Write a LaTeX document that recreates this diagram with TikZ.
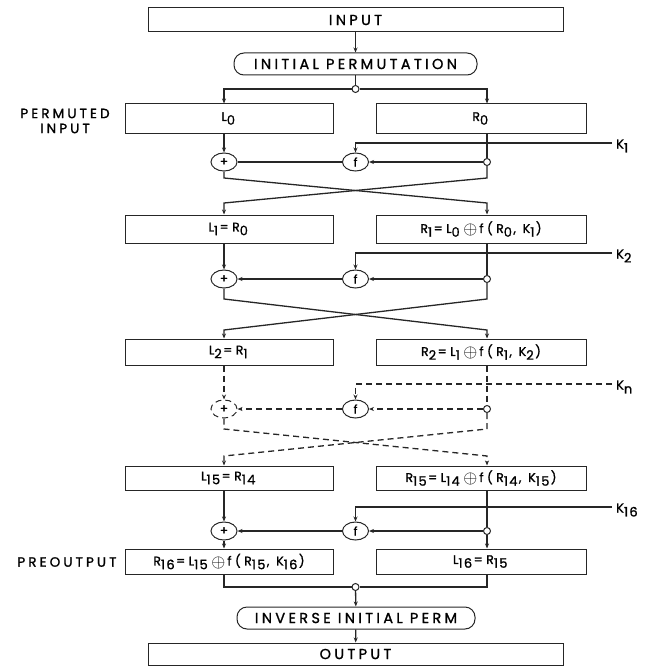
\documentclass[tikz,border=0pt]{standalone}
\usepackage{fontspec}
\usepackage{graphicx}
\setmainfont{Poppins}[LetterSpace=10,FakeBold=1]
\newfontfamily\titlefont{Poppins}[LetterSpace=23,FakeBold=1.2]
\newfontfamily\boxfont{Poppins}[LetterSpace=28,FakeBold=1.2]
\newfontfamily\subfont{Poppins}[LetterSpace=10,FakeBold=1.2]
\usetikzlibrary{arrows.meta,shapes.geometric}
\newcommand{\cp}{\,\raisebox{-0.25ex}{\scalebox{1.5}{$\oplus$}}\,}
\newcommand{\sbs}[1]{\raisebox{-0.55ex}{\subfont\fontsize{13}{13}\selectfont #1}\kern1.5pt}
\tikzset{
  ln/.style={line width=1.3pt, draw=black!85},
  arr/.style={ln, -{Stealth[length=5pt,width=4pt]}},
  box/.style={draw=black!85, line width=1pt, inner sep=0pt, font=\boxfont\fontsize{12.5}{14}\selectfont},
  tbox/.style={draw=black!85, line width=1pt, inner sep=0pt, font=\titlefont\fontsize{14.5}{16}\selectfont},
  perm/.style={draw=black!85, line width=1pt, rounded corners=10pt, inner sep=0pt, font=\titlefont\fontsize{14.5}{16}\selectfont},
  op/.style={ellipse, draw=black!85, line width=1pt, minimum width=26pt, minimum height=18pt, inner sep=0pt, fill=white, font=\fontsize{12}{12}\selectfont},
  jn/.style={circle, draw=black!85, line width=1pt, fill=white, minimum size=7pt, inner sep=0pt},
  dsh/.style={dash pattern=on 6pt off 4pt},
  lbl/.style={font=\titlefont\fontsize{13.5}{15}\selectfont, align=center},
  klbl/.style={anchor=west, inner sep=0pt, font=\boxfont\fontsize{13}{14}\selectfont}
}
\begin{document}
\begin{tikzpicture}[x=1pt,y=-1pt]
\useasboundingbox (0,0) rectangle (647,666);
% top
\node[tbox, minimum width=415pt, minimum height=24pt] (in) at (355.5,20) {INPUT};
\node[perm, minimum width=243pt, minimum height=22pt] (ip) at (355.5,64) {INITIAL PERMUTATION};
\node[jn] (j0) at (355.5,89) {};
\node[box, minimum width=208pt, minimum height=29pt] (L0) at (229,118.5) {L\sbs{0}};
\node[box, minimum width=210pt, minimum height=29pt] (R0) at (481,118.5) {R\sbs{0}};
\node[lbl] (pi) at (65,121) {PERMUTED\\INPUT};
% round 1
\node[op] (x1) at (224,162) {+};
\node[op] (f1) at (355.5,162) {f};
\node[jn] (s1) at (487,162) {};
\coordinate (k1s) at (612,143);
\node[klbl] (k1) at (616,146) {K\sbs{1}};
\coordinate (a1) at (224,178);
\coordinate (b1) at (487,178);
\coordinate (c1) at (224,203);
\coordinate (d1) at (487,203);
\node[box, minimum width=208pt, minimum height=28pt] (L1) at (229,229) {L\sbs{1}=R\sbs{0}};
\node[box, minimum width=210pt, minimum height=28pt] (R1) at (481,229) {R\sbs{1}=L\sbs{0}\cp f(R\sbs{0}, K\sbs{1})};
% round 2
\node[op] (x2) at (224,279) {+};
\node[op] (f2) at (355.5,279) {f};
\node[jn] (s2) at (487,279) {};
\coordinate (k2s) at (612,253);
\node[klbl] (k2) at (616,256) {K\sbs{2}};
\coordinate (a2) at (224,299);
\coordinate (b2) at (487,299);
\coordinate (c2) at (224,330);
\coordinate (d2) at (487,330);
\node[box, minimum width=208pt, minimum height=26pt] (L2) at (229,352) {L\sbs{2}=R\sbs{1}};
\node[box, minimum width=210pt, minimum height=26pt] (R2) at (481,352) {R\sbs{2}=L\sbs{1}\cp f(R\sbs{1}, K\sbs{2})};
% round n (dashed)
\node[op, dsh] (x3) at (224,409) {+};
\node[op] (f3) at (355.5,409) {f};
\node[jn] (s3) at (487,409) {};
\coordinate (k3s) at (612,384);
\node[klbl] (k3) at (616,387) {K\sbs{n}};
\coordinate (a3) at (224,429);
\coordinate (b3) at (487,429);
\coordinate (c3) at (224,456);
\coordinate (d3) at (487,456);
\node[box, minimum width=208pt, minimum height=24pt] (L15) at (229,478) {L\sbs{15}=R\sbs{14}};
\node[box, minimum width=210pt, minimum height=24pt] (R15) at (481,478) {R\sbs{15}=L\sbs{14}\cp f(R\sbs{14}, K\sbs{15})};
% round 16
\node[op] (x4) at (224,531) {+};
\node[op] (f4) at (355.5,531) {f};
\node[jn] (s4) at (487,531) {};
\coordinate (k4s) at (612,507);
\node[klbl] (k4) at (616,510) {K\sbs{16}};
\node[box, minimum width=208pt, minimum height=25pt] (R16) at (229,561.5) {R\sbs{16}=L\sbs{15}\cp f(R\sbs{15}, K\sbs{16})};
\node[box, minimum width=210pt, minimum height=25pt] (L16) at (481,561.5) {L\sbs{16}=R\sbs{15}};
\node[lbl, anchor=east] (po) at (120,562) {PREOUTPUT};
% bottom
\node[jn] (j1) at (355.5,587) {};
\node[perm, minimum width=238pt, minimum height=22pt] (iip) at (356,618) {INVERSE INITIAL PERM};
\node[tbox, minimum width=415pt, minimum height=22pt] (out) at (355.5,654) {OUTPUT};

% connectors top
\draw[arr] (in) -- (ip);
\draw[ln] (ip) -- (j0);
\draw[arr] (j0.west) -| (x1 |- L0.north);
\draw[arr] (j0.east) -| (s1 |- R0.north);
% round 1
\draw[arr] (x1 |- L0.south) -- (x1);
\draw[ln] (s1 |- R0.south) -- (s1);
\draw[arr] (k1s) -| (f1.north);
\draw[arr] (s1) -- (f1);
\draw[ln] (f1) -- (x1);
\draw[arr] (x1) -- (a1) -- (d1) -- (s1 |- R1.north);
\draw[arr] (s1) -- (b1) -- (c1) -- (x1 |- L1.north);
% round 2
\draw[arr] (x2 |- L1.south) -- (x2);
\draw[ln] (s2 |- R1.south) -- (s2);
\draw[arr] (k2s) -| (f2.north);
\draw[arr] (s2) -- (f2);
\draw[arr] (f2) -- (x2);
\draw[arr] (x2) -- (a2) -- (d2) -- (s2 |- R2.north);
\draw[arr] (s2) -- (b2) -- (c2) -- (x2 |- L2.north);
% round n dashed
\draw[arr, dsh] (x3 |- L2.south) -- (x3);
\draw[ln, dsh] (s3 |- R2.south) -- (s3);
\draw[arr, dsh] (k3s) -| (f3.north);
\draw[arr, dsh] (s3) -- (f3);
\draw[arr, dsh] (f3) -- (x3);
\draw[arr, dsh] (x3) -- (a3) -- (d3) -- (s3 |- R15.north);
\draw[arr, dsh] (s3) -- (b3) -- (c3) -- (x3 |- L15.north);
% round 16
\draw[arr] (x4 |- L15.south) -- (x4);
\draw[ln] (s4 |- R15.south) -- (s4);
\draw[arr] (k4s) -| (f4.north);
\draw[arr] (s4) -- (f4);
\draw[arr] (f4) -- (x4);
\draw[arr] (x4) -- (x4 |- R16.north);
\draw[arr] (s4) -- (s4 |- L16.north);
% bottom
\draw[ln] (x4 |- R16.south) |- (j1.west);
\draw[ln] (s4 |- L16.south) |- (j1.east);
\draw[arr] (j1) -- (iip);
\draw[arr] (iip) -- (out);
\end{tikzpicture}
\end{document}
